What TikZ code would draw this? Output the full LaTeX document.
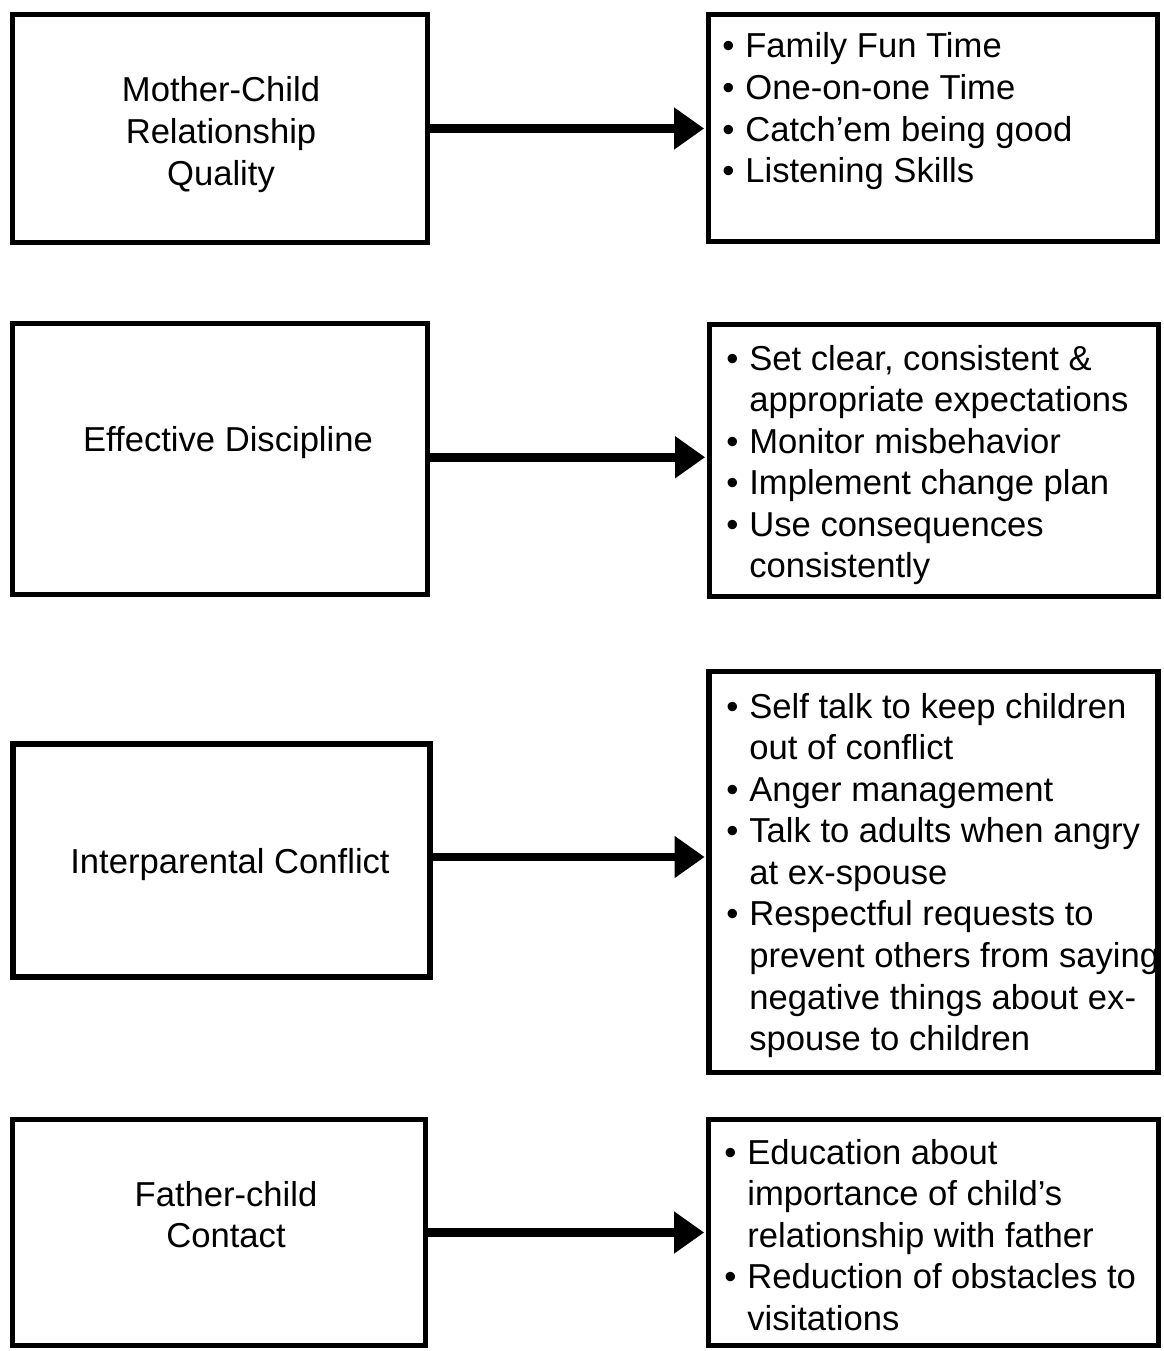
\documentclass[tikz,border=0pt]{standalone}
\usepackage{fontspec}
\setmainfont{Liberation Sans}
\usetikzlibrary{arrows.meta}
\newcommand{\bul}{\makebox[0.46cm][l]{\textbullet}}
\newcommand{\ind}{\hspace*{0.46cm}}
\begin{document}
\begin{tikzpicture}[x=0.02cm, y=-0.02cm,
    box/.style={draw, line width=3pt, inner sep=0pt},
    txt/.style={inner sep=0pt, font=\fontsize{19.7}{23.67}\selectfont},
    link/.style={line width=5pt, shorten >=1pt, -{Triangle[length=0.6cm,width=0.8cm]}}]
  \useasboundingbox (0,0) rectangle (1163,1351);

  % left column: the targets
  \node[box, minimum width=8.3cm, minimum height=4.56cm] (mcq) at (220,128.5) {};
  \node[box, minimum width=8.3cm, minimum height=5.42cm] (disc) at (220,459) {};
  \node[box, minimum width=8.34cm, minimum height=4.66cm] (conf) at (221.5,860.5) {};
  \node[box, minimum width=8.26cm, minimum height=4.52cm] (fcc) at (219,1232.5) {};

  % right column: the program parts
  \node[box, minimum width=8.98cm, minimum height=4.54cm] (mcqprog) at (933,128) {};
  \node[box, minimum width=8.98cm, minimum height=5.44cm] (discprog) at (934,460.5) {};
  \node[box, minimum width=8.98cm, minimum height=8.02cm] (confprog) at (933.5,872) {};
  \node[box, minimum width=9cm, minimum height=4.52cm] (fccprog) at (933.5,1232.5) {};

  % labels
  \node[txt, anchor=base] (mcqlabel) at (221,102)
    {\begin{tabular}[t]{@{}c@{}}Mother-Child\\Relationship\\Quality\end{tabular}};
  \node[txt, anchor=base] (disclabel) at (228,451) {Effective Discipline};
  \node[txt, anchor=base] (conflabel) at (230,873) {Interparental Conflict};
  \node[txt, anchor=base] (fcclabel) at (226,1206)
    {\begin{tabular}[t]{@{}c@{}}Father-child\\Contact\end{tabular}};

  \node[txt, anchor=base west] (mcqitems) at (722,58)
    {\begin{tabular}[t]{@{}l@{}}
      \bul Family Fun Time\\
      \bul One-on-one Time\\
      \bul Catch’em being good\\
      \bul Listening Skills
    \end{tabular}};
  \node[txt, anchor=base west] (discitems) at (726,370)
    {\begin{tabular}[t]{@{}l@{}}
      \bul Set clear, consistent \&\\
      \ind appropriate expectations\\
      \bul Monitor misbehavior\\
      \bul Implement change plan\\
      \bul Use consequences\\
      \ind consistently
    \end{tabular}};
  \node[txt, anchor=base west] (confitems) at (726,718)
    {\begin{tabular}[t]{@{}l@{}}
      \bul Self talk to keep children\\
      \ind out of conflict\\
      \bul Anger management\\
      \bul Talk to adults when angry\\
      \ind at ex-spouse\\
      \bul Respectful requests to\\
      \ind prevent others from saying\\
      \ind negative things about ex-\\
      \ind spouse to children
    \end{tabular}};
  \node[txt, anchor=base west] (fccitems) at (724,1164)
    {\begin{tabular}[t]{@{}l@{}}
      \bul Education about\\
      \ind importance of child’s\\
      \ind relationship with father\\
      \bul Reduction of obstacles to\\
      \ind visitations
    \end{tabular}};

  % arrows
  \draw[link] (mcq.east) -- (mcq.east -| mcqprog.west);
  \draw[link] ([yshift=1pt]disc.east) -- ([yshift=1pt]disc.east -| discprog.west);
  \draw[link] ([yshift=2pt]conf.east) -- ([yshift=2pt]conf.east -| confprog.west);
  \draw[link] (fcc.east) -- (fcc.east -| fccprog.west);
\end{tikzpicture}
\end{document}
